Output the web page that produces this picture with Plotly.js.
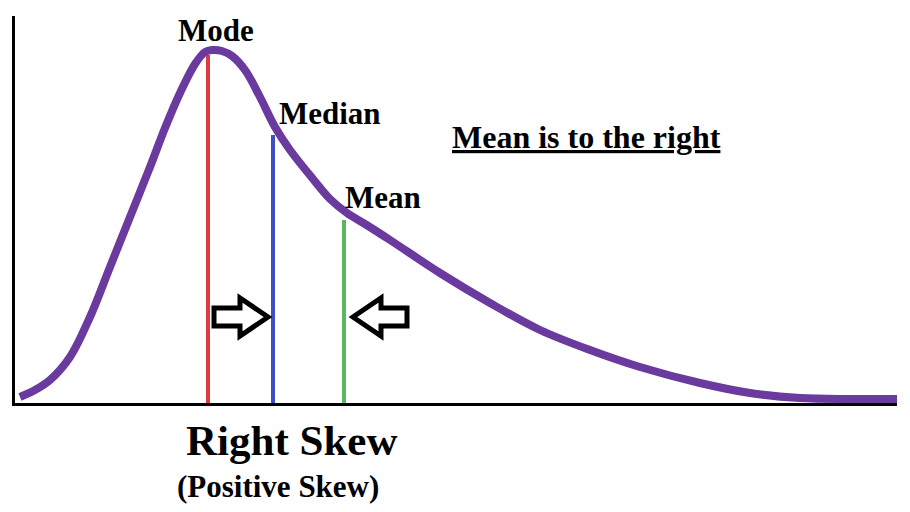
<!DOCTYPE html>
<html>
<head>
<meta charset="utf-8">
<script src="https://cdn.plot.ly/plotly-3.0.1.min.js"></script>
<style>html,body{margin:0;padding:0;background:#fff;}#chart{width:910px;height:512px;}</style>
</head>
<body>
<div id="chart"></div>
<script>
// Curve of a right-skewed distribution (arbitrary units)
const curveX = [5, 20, 35, 55, 75, 95, 115, 135, 150, 165, 180, 190, 197, 207, 217, 230, 245, 260, 275, 298, 315, 332, 350, 375, 425, 475, 525, 575, 625, 685, 735, 785, 835, 882];
const curveY = [6, 13, 23, 46, 86, 136, 186, 236, 275, 310, 339, 351, 353, 352, 347, 333, 306, 276, 253, 224, 204, 190, 179, 163, 130, 100, 73, 53, 36, 20, 10, 5, 4, 4];

// Central tendency markers
const measureNames = ["Mode", "Median", "Mean"];
const measureX = [193, 258, 329];
const measureTop = [348, 268, 183];
const measureColors = ["#e0393e", "#3f4fc8", "#5cb85c"];

// Arrow positions (tip x, direction)
const arrowTips = [253, 338];
const arrowDirs = [1, -1];
const arrowY = 86;

const traces = [];
measureNames.forEach((n, i) => {
  traces.push({
    x: [measureX[i], measureX[i]], y: [0, measureTop[i]],
    mode: "lines", line: {color: measureColors[i], width: 4},
    hoverinfo: "skip", showlegend: false, cliponaxis: false
  });
});
traces.push({
  x: curveX, y: curveY, mode: "lines",
  line: {color: "#6a3a9e", width: 8, shape: "spline", smoothing: 1},
  hoverinfo: "skip", showlegend: false, cliponaxis: false
});

function arrowPath(tip, dir, yc) {
  const headLen = 28, totalLen = 54, bodyH = 9, headH = 19;
  const hb = tip - dir * headLen, tail = tip - dir * totalLen;
  const pts = [
    [tail, yc + bodyH], [hb, yc + bodyH], [hb, yc + headH], [tip, yc],
    [hb, yc - headH], [hb, yc - bodyH], [tail, yc - bodyH]
  ];
  return "M" + pts.map(p => p[0] + "," + p[1]).join(" L") + " Z";
}
const shapes = arrowTips.map((t, i) => ({
  type: "path", xref: "x", yref: "y", path: arrowPath(t, arrowDirs[i], arrowY),
  line: {color: "#000", width: 5}, fillcolor: "#fff"
}));

const serif = "Liberation Serif, Times New Roman, serif";
const labelFont = {family: serif, size: 31, color: "#000"};
const annotations = [
  {text: "<b>Mode</b>", x: 201, y: 373, font: labelFont},
  {text: "<b>Median</b>", x: 315, y: 290, font: labelFont},
  {text: "<b>Mean</b>", x: 368, y: 206, font: labelFont},
  {text: "<b><u>Mean is to the right</u></b>", x: 571, y: 266, font: {family: serif, size: 32, color: "#000"}},
  {text: "<b>Right Skew</b>", x: 276, yref: "paper", y: -0.096, font: {family: serif, size: 43, color: "#000"}},
  {text: "<b>(Positive Skew)</b>", x: 263, yref: "paper", y: -0.217, font: {family: serif, size: 31, color: "#000"}}
].map(a => Object.assign({xref: "x", yref: "y", showarrow: false, xanchor: "center", yanchor: "middle"}, a));

const layout = {
  width: 910, height: 512,
  margin: {l: 15, r: 13, t: 16, b: 109, pad: 0},
  paper_bgcolor: "#fff", plot_bgcolor: "#fff",
  xaxis: {range: [0, 882], showline: true, linewidth: 3, linecolor: "#000", showgrid: false, zeroline: false, showticklabels: false, ticks: "", fixedrange: true},
  yaxis: {range: [0, 387], showline: true, linewidth: 3, linecolor: "#000", showgrid: false, zeroline: false, showticklabels: false, ticks: "", fixedrange: true},
  shapes: shapes,
  annotations: annotations,
  showlegend: false
};
Plotly.newPlot("chart", traces, layout, {displayModeBar: false, staticPlot: true});
</script>
</body>
</html>
